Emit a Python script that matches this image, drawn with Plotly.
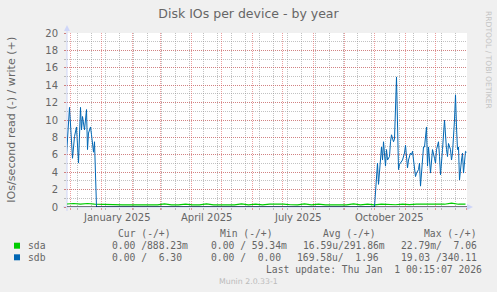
import plotly.graph_objects as go
import pandas as pd

# ---------------- data ----------------
sdb_dates = [
    "2024-11-27", "2024-11-30", "2024-12-03", "2024-12-05", "2024-12-07", "2024-12-09",
    "2024-12-11", "2024-12-12", "2024-12-13", "2024-12-15", "2024-12-17", "2024-12-18",
    "2024-12-19", "2024-12-21", "2024-12-22", "2024-12-24", "2024-12-25", "2024-12-26",
    "2024-12-27", "2025-10-01",
    "2025-10-03", "2025-10-04", "2025-10-05", "2025-10-07", "2025-10-08", "2025-10-09",
    "2025-10-10", "2025-10-12", "2025-10-13", "2025-10-14", "2025-10-16", "2025-10-17",
    "2025-10-18", "2025-10-20", "2025-10-21", "2025-10-23", "2025-10-24", "2025-10-25",
    "2025-10-26", "2025-10-28", "2025-10-29", "2025-10-31", "2025-11-01", "2025-11-03",
    "2025-11-04", "2025-11-06", "2025-11-07", "2025-11-08", "2025-11-10", "2025-11-11",
    "2025-11-12", "2025-11-14", "2025-11-15", "2025-11-16", "2025-11-18", "2025-11-19",
    "2025-11-20", "2025-11-22", "2025-11-23", "2025-11-24", "2025-11-26", "2025-11-27",
    "2025-11-28", "2025-11-30", "2025-12-01", "2025-12-02", "2025-12-04", "2025-12-05",
    "2025-12-06", "2025-12-08", "2025-12-09", "2025-12-10", "2025-12-12", "2025-12-13",
    "2025-12-14", "2025-12-16", "2025-12-17", "2025-12-18", "2025-12-20", "2025-12-21",
    "2025-12-22", "2025-12-23", "2025-12-24", "2025-12-25", "2025-12-27", "2025-12-28",
    "2025-12-29", "2025-12-31", "2026-01-01",
]
sdb_values = [
    6.0, 11.45, 5.6, 8.1, 9.2, 5.05,
    11.45, 8.86, 10.4, 8.86, 11.2, 6.6,
    8.5, 9.2, 8.3, 6.3, 7.5, 3.1,
    0.0, 0.0,
    3.9, 5.05, 2.6, 5.05, 6.9, 5.4,
    7.5, 4.7, 6.6, 5.4, 5.8, 7.5,
    8.3, 7.5, 7.8, 14.95, 10.8, 4.3,
    4.9, 5.2, 5.4, 6.2, 7.1, 4.5,
    5.4, 6.2, 6.0, 6.4, 3.9, 3.5,
    3.9, 4.3, 5.05, 2.4, 5.4, 6.9,
    6.9, 9.2, 4.7, 6.9, 3.9, 5.4,
    6.6, 5.6, 5.05, 6.6, 7.5, 5.8,
    3.7, 6.6, 8.1, 10.0, 6.6, 5.8,
    7.3, 6.6, 5.4, 6.2, 10.0, 12.9,
    9.2, 6.6, 6.9, 3.1, 5.4, 6.2,
    3.9, 6.4, 6.3,
]

sda_start = "2024-11-27"   # weekly samples from this date
sda_values = [
    0.34, 0.40, 0.33, 0.40, 0.34, 0.30, 0.27, 0.26, 0.25, 0.25,
    0.25, 0.25, 0.25, 0.25, 0.36, 0.25, 0.25, 0.34, 0.25, 0.25,
    0.36, 0.25, 0.25, 0.25, 0.25, 0.35, 0.25, 0.34, 0.25, 0.33,
    0.34, 0.33, 0.26, 0.25, 0.35, 0.25, 0.34, 0.25, 0.25, 0.25,
    0.25, 0.35, 0.25, 0.34, 0.25, 0.34, 0.30, 0.26, 0.34, 0.27,
    0.34, 0.32, 0.32, 0.32, 0.32, 0.44, 0.32, 0.32,
]

month_starts = [
    "2024-12-01", "2025-01-01", "2025-02-01", "2025-03-01", "2025-04-01", "2025-05-01",
    "2025-06-01", "2025-07-01", "2025-08-01", "2025-09-01", "2025-10-01", "2025-11-01",
    "2025-12-01", "2026-01-01",
]
label_dates = ["2025-01-16", "2025-04-16", "2025-07-16", "2025-10-16"]
label_texts = ["January 2025", "April 2025", "July 2025", "October 2025"]
y_ticks = list(range(0, 21, 2))

series_names = ["sda", "sdb"]
series_colors = ["#00CC00", "#0066B3"]
headers = ["Cur (-/+)", "Min (-/+)", "Avg (-/+)", "Max (-/+)"]
stats = [
    ["0.00 /888.23m", "0.00 / 59.34m", "16.59u/291.86m", "22.79m/  7.06"],
    ["0.00 /  6.30", "0.00 /  0.00", "169.58u/  1.96", "19.03 /340.11"],
]
last_update = "Last update: Thu Jan  1 00:15:07 2026"
title_text = "Disk IOs per device - by year"
y_title = "IOs/second read (-) / write (+)"
watermark = "RRDTOOL / TOBI OETIKER"
footer = "Munin 2.0.33-1"

# ---------------- layout geometry ----------------
L, R, T, B = 67, 467, 33, 207
W, H = R - L, B - T


def px(x):
    return (x - L) / W


def py(y):
    return (B - y) / H


FONT = "DejaVu Sans"
MONO = "DejaVu Sans Mono"
FC = "#666666"
MGRID = "rgba(222,79,79,0.55)"
GRID = "rgba(143,143,143,0.55)"
AXIS = "#CFD6F8"

fig = go.Figure()
fig.add_trace(go.Scatter(
    x=pd.date_range(sda_start, periods=len(sda_values), freq="7D"), y=sda_values,
    mode="lines", line=dict(color=series_colors[0], width=1.2), hoverinfo="skip"))
fig.add_trace(go.Scatter(
    x=pd.to_datetime(sdb_dates), y=sdb_values,
    mode="lines", line=dict(color=series_colors[1], width=1.0), hoverinfo="skip"))

fig.update_layout(
    width=497, height=292,
    margin=dict(l=L, r=497 - R, t=T, b=292 - B, pad=0),
    paper_bgcolor="#F0F0F0", plot_bgcolor="#FFFFFF",
    showlegend=False,
    font=dict(family=FONT, size=10, color=FC),
    title=dict(text=title_text, x=0.5, xanchor="center", y=1 - 14 / 292, yanchor="middle",
               xref="container", yref="container",
               font=dict(family=FONT, size=12.5, color=FC)),
)

fig.update_xaxes(
    type="date", range=["2024-11-27 12:00", "2026-01-01 12:00"],
    tickmode="array", tickvals=month_starts, showticklabels=False,
    ticks="outside", ticklen=2, tickcolor=MGRID, tickwidth=1,
    showgrid=True, gridcolor=MGRID, griddash="1px,1px", gridwidth=1,
    minor=dict(tick0="2024-12-08", dtick=14 * 86400000, showgrid=True,
               gridcolor=GRID, griddash="1px,1px", gridwidth=1,
               ticks="outside", ticklen=2, tickcolor=GRID),
    showline=False, zeroline=False, fixedrange=True,
)
fig.update_yaxes(
    range=[0, 20], tickmode="array", tickvals=y_ticks,
    ticks="outside", ticklen=2, tickcolor=MGRID, ticklabelstandoff=4,
    tickfont=dict(family=FONT, size=10, color=FC),
    showgrid=True, gridcolor=MGRID, griddash="1px,1px", gridwidth=1,
    minor=dict(dtick=1, showgrid=True, gridcolor=GRID, griddash="1px,1px", gridwidth=1,
               ticks="outside", ticklen=2, tickcolor=GRID),
    showline=False, zeroline=False, fixedrange=True,
)

shapes = []
# axis lines and arrows
shapes.append(dict(type="line", xref="paper", yref="paper", x0=px(63), x1=px(468), y0=py(207), y1=py(207),
                   line=dict(color=AXIS, width=1), layer="between"))
shapes.append(dict(type="line", xref="paper", yref="paper", x0=px(67), x1=px(67), y0=py(211), y1=py(30),
                   line=dict(color=AXIS, width=1), layer="between"))
shapes.append(dict(type="path", xref="paper", yref="paper",
                   path=f"M {px(467)},{py(204)} L {px(473)},{py(207)} L {px(467)},{py(210)} Z",
                   fillcolor=AXIS, line=dict(width=0), layer="above"))
shapes.append(dict(type="path", xref="paper", yref="paper",
                   path=f"M {px(64)},{py(31)} L {px(67)},{py(25)} L {px(70)},{py(31)} Z",
                   fillcolor=AXIS, line=dict(width=0), layer="above"))
# zero line
shapes.append(dict(type="line", xref="paper", yref="y", x0=0, x1=1, y0=0, y1=0,
                   line=dict(color="#000000", width=1), layer="above"))

annotations = []
# x labels
for d, t in zip(label_dates, label_texts):
    annotations.append(dict(x=d, xref="x", y=py(217), yref="paper", text=t, showarrow=False,
                            xanchor="center", yanchor="middle",
                            font=dict(family=FONT, size=10, color=FC)))
# y title
annotations.append(dict(x=px(10.7), xref="paper", y=py(120), yref="paper", text=y_title,
                        showarrow=False, textangle=-90, xanchor="center", yanchor="middle",
                        font=dict(family=FONT, size=11.1, color=FC)))


def nb(s):
    return s.replace(" ", "\u00a0")


def mono(x, y, s, anchor="left", size=9.7, color=FC, family=MONO):
    annotations.append(dict(x=px(x), xref="paper", y=py(y), yref="paper", text=nb(s),
                            showarrow=False, xanchor=anchor, yanchor="middle",
                            font=dict(family=family, size=size, color=color)))


header_x = [116.7, 219.3, 321.7, 423.3]
for hx, h in zip(header_x, headers):
    mono(hx - 1, 233.3, h)

row_y = [245.7, 257.3]
cell_x = [[110.7, 209.7, 302], [110.7, 209.7, 296]]
for i, name in enumerate(series_names):
    yy = row_y[i]
    shapes.append(dict(type="rect", xref="paper", yref="paper",
                       x0=px(14), x1=px(20), y0=py(yy - 3), y1=py(yy + 3),
                       fillcolor=series_colors[i], line=dict(width=0), layer="above"))
    mono(26.7 - 1, yy, name)
    for cx, s in zip(cell_x[i], stats[i][:3]):
        mono(cx - 1, yy, s)
    mono(478.5, yy, stats[i][3], anchor="right")

mono(483.5, 269.3, last_update, anchor="right")
mono(248.3, 281.3, footer, anchor="center", size=7.8, color="#BBBBBB", family=FONT)

# watermark (vertical)
annotations.append(dict(x=px(489), xref="paper", y=py(60), yref="paper", text=watermark,
                        showarrow=False, textangle=90, xanchor="center", yanchor="middle",
                        font=dict(family=FONT, size=7.6, color="#C4C4C4")))

fig.update_layout(shapes=shapes, annotations=annotations)
fig.write_html("out.html")
